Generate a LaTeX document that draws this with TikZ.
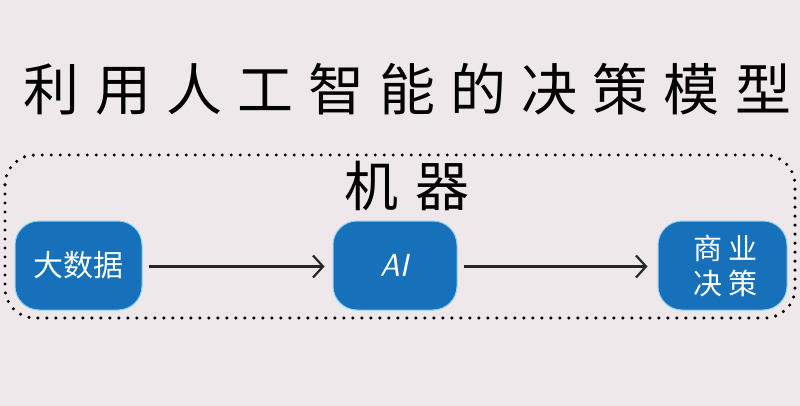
\documentclass[tikz,border=0pt]{standalone}
\usepackage{fontspec}
\newfontfamily\cjk{Noto Sans CJK SC}
\usetikzlibrary{positioning,arrows.meta}
\definecolor{bgpink}{HTML}{EEE8EA}
\definecolor{boxblue}{HTML}{1670BA}
\definecolor{rimblue}{HTML}{8FD3F2}

\tikzset{
  stage/.style={draw=rimblue,line width=1pt,fill=boxblue,rounded corners=24pt,
    minimum width=125pt,minimum height=89pt,text=white,font=\cjk\fontsize{30}{35}\selectfont,
    align=center,inner sep=0pt},
  flow/.style={-{Straight Barb[length=10pt,width=22pt,line width=2.2pt]},line width=2.4pt,black!85}
}

\begin{document}
\begin{tikzpicture}[x=1pt,y=-1pt]
\fill[bgpink] (0,0) rectangle (800,406);
\useasboundingbox (0,0) rectangle (800,406);
% title
\node (title) at (400,89) {\cjk\fontsize{56}{62}\selectfont\addfontfeature{LetterSpace=27}利用人工智能的决策模型\kern-15.1pt};
% machine frame
\draw[line width=3.4pt,line cap=round,dash pattern=on 0pt off 9pt,rounded corners=30pt] (5,155) rectangle (795,318);
\node (machine) at (398,186) {\cjk\fontsize{54}{60}\selectfont\addfontfeature{LetterSpace=32}机器\kern-17.3pt};
% stages
\node[stage,minimum width=127pt] (data) at (78.5,265.5) {大数据};
\node[stage,minimum width=124pt] (ai) at (395,265.5) {\fontsize{32}{36}\selectfont\textit{\sffamily AI}};
\node[stage,minimum width=129pt,font=\cjk\fontsize{29}{35}\selectfont] (biz) at (722.5,265.5) {\addfontfeature{LetterSpace=22}商业\kern-6.4pt\\\addfontfeature{LetterSpace=22}决策\kern-6.4pt};
\draw[flow] ([xshift=6pt,yshift=-1pt]data.east) -- ([xshift=-8pt,yshift=-1pt]ai.west);
\draw[flow] ([xshift=6pt,yshift=-1pt]ai.east) -- ([xshift=-10pt,yshift=-1pt]biz.west);
\end{tikzpicture}
\end{document}
